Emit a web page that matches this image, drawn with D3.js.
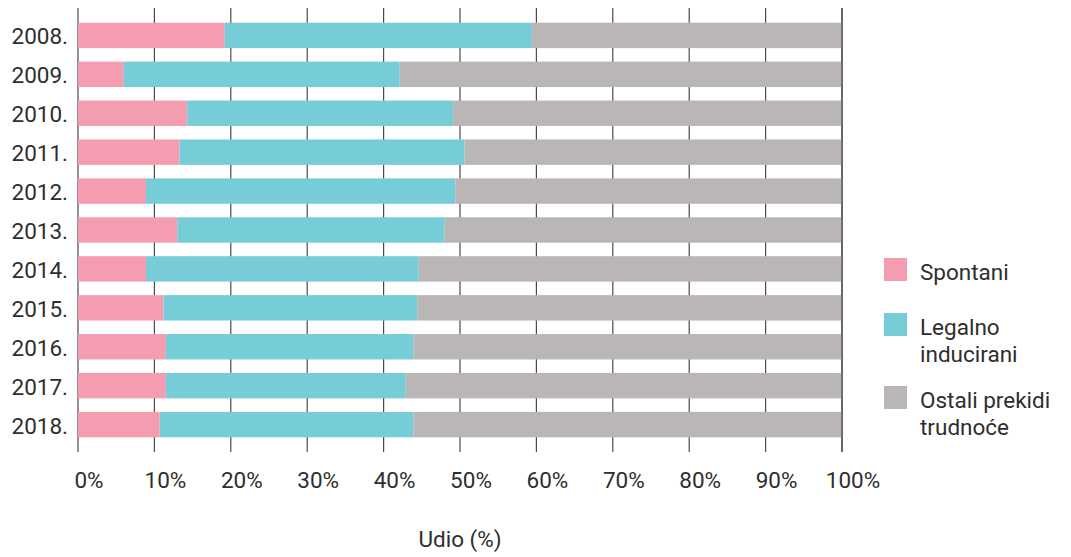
<!DOCTYPE html>
<html><head><meta charset="utf-8">
<script src="https://cdn.jsdelivr.net/npm/d3@7"></script>
<style>body{margin:0;background:#fff}svg{display:block;font-family:Roboto,"Noto Sans",sans-serif}</style>
</head><body><svg id="c" width="1071" height="557"></svg>
<script>
const years = ["2008.","2009.","2010.","2011.","2012.","2013.","2014.","2015.","2016.","2017.","2018."];
const spontani = [19.2, 6.0, 14.3, 13.3, 8.9, 13.0, 8.9, 11.2, 11.5, 11.5, 10.7];
const legalno  = [40.2, 36.1, 34.8, 37.3, 40.5, 35.0, 35.7, 33.2, 32.4, 31.4, 33.2];
const ostali   = [40.6, 57.9, 50.9, 49.4, 50.6, 52.0, 55.4, 55.6, 56.1, 57.1, 56.1];
const seriesNames = ["Spontani", "Legalno inducirani", "Ostali prekidi trudnoće"];
const legendLines = [["Spontani"], ["Legalno", "inducirani"], ["Ostali prekidi", "trudnoće"]];
const colors = ["#f59db0", "#76cdd8", "#bab6b5"];
const xTicks = [0,10,20,30,40,50,60,70,80,90,100];
const xTitle = "Udio (%)";

const svg = d3.select("#c");
const x = d3.scaleLinear().domain([0,100]).range([78, 842]);
const y = d3.scaleBand().domain(years).range([8, 452]).paddingInner(0.347).paddingOuter(0.378);

const rows = years.map((yr,i)=>({yr, vals:[spontani[i], legalno[i], ostali[i]]}));
const stack = d3.stack().keys([0,1,2]).value((d,k)=>d.vals[k]);
const stacked = stack(rows);

// grid lines
svg.append("g").selectAll("line").data(xTicks).join("line")
  .attr("x1", d=>x(d)).attr("x2", d=>x(d)).attr("y1", 8).attr("y2", 452)
  .attr("stroke", "#4a4a4a").attr("stroke-width", 1.2);

// bars
svg.append("g").selectAll("g").data(stacked).join("g")
  .attr("fill", (d,i)=>colors[i])
  .selectAll("rect").data(d=>d).join("rect")
  .attr("x", d=>x(d[0])).attr("width", d=>x(d[1])-x(d[0]))
  .attr("y", d=>y(d.data.yr)).attr("height", y.bandwidth());

// right edge line over bars
svg.append("line").attr("x1", x(100)).attr("x2", x(100)).attr("y1", 8).attr("y2", 452)
  .attr("stroke", "#4a4a4a").attr("stroke-width", 1.2);

// year labels
svg.append("g").selectAll("text").data(years).join("text")
  .attr("x", 68).attr("y", d=>y(d)+y.bandwidth()/2+9)
  .attr("text-anchor", "end").attr("font-size", 22.5).attr("fill", "#2e2e2e")
  .text(d=>d);

// x tick labels
svg.append("g").selectAll("text").data(xTicks).join("text")
  .attr("x", d=>x(d)+11).attr("y", 488)
  .attr("text-anchor", "middle").attr("font-size", 22.5).attr("fill", "#2e2e2e")
  .text(d=>d+"%");

svg.append("text").attr("x", 460).attr("y", 547).attr("text-anchor", "middle")
  .attr("font-size", 22.5).attr("fill", "#2e2e2e").text(xTitle);

// legend
const legY = [258, 313, 386];
const lg = svg.append("g");
seriesNames.forEach((n,i)=>{
  lg.append("rect").attr("x", 884).attr("y", legY[i]).attr("width", 23).attr("height", 23).attr("fill", colors[i]);
  const t = lg.append("text").attr("x", 920).attr("y", legY[i]+22).attr("font-size", 22.5).attr("fill", "#2e2e2e");
  legendLines[i].forEach((l,j)=>t.append("tspan").attr("x", 920).attr("dy", j===0?0:27).text(l));
});
</script></body></html>
